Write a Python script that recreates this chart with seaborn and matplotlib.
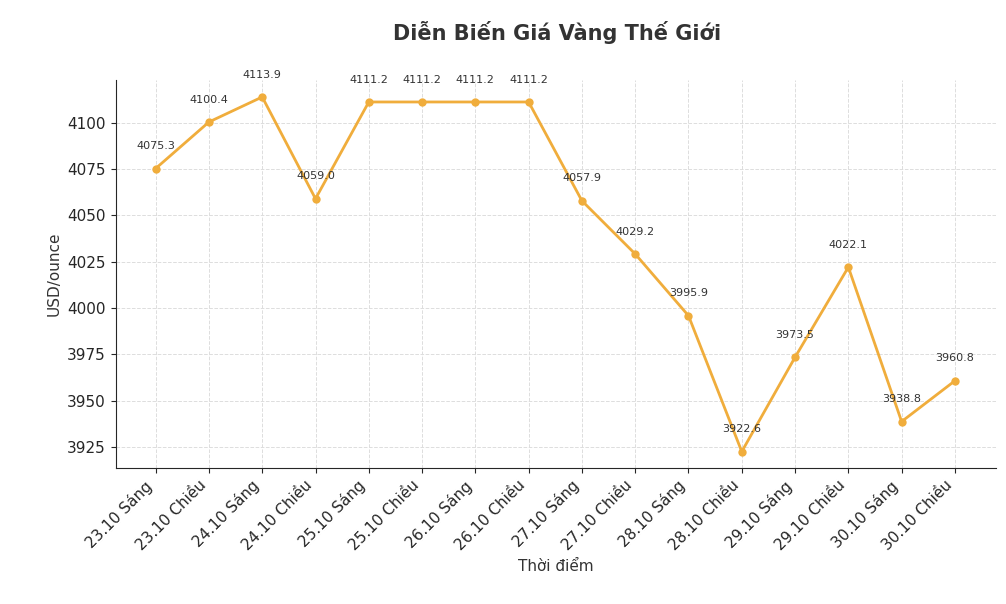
import seaborn as sns
import matplotlib.pyplot as plt
import pandas as pd

thoi_diem = ["23.10 Sáng", "23.10 Chiều", "24.10 Sáng", "24.10 Chiều", "25.10 Sáng",
             "25.10 Chiều", "26.10 Sáng", "26.10 Chiều", "27.10 Sáng", "27.10 Chiều",
             "28.10 Sáng", "28.10 Chiều", "29.10 Sáng", "29.10 Chiều", "30.10 Sáng",
             "30.10 Chiều"]
gia = [4075.3, 4100.4, 4113.9, 4059.0, 4111.2, 4111.2, 4111.2, 4111.2, 4057.9,
       4029.2, 3995.9, 3922.6, 3973.5, 4022.1, 3938.8, 3960.8]

df = pd.DataFrame({"x": range(len(gia)), "gia": gia})

sns.set_style("ticks")
plt.rcParams['font.family'] = ['DejaVu Sans']
fig, ax = plt.subplots(figsize=(10.06, 6.04), dpi=100)
fig.subplots_adjust(left=0.115, right=0.99, top=0.868, bottom=0.225)

sns.lineplot(data=df, x="x", y="gia", ax=ax, color="#f0ad3c", linewidth=2,
             marker="o", markersize=6, markeredgewidth=0)

for i, v in enumerate(gia):
    ax.annotate(f"{v:.1f}", (i, v), textcoords="offset points", xytext=(0, 14),
                ha="center", fontsize=8, color="#333333")

ax.set_xlim(-0.75, 15.77)
ax.set_ylim(3913.7, 4123.2)
ax.set_yticks([3925, 3950, 3975, 4000, 4025, 4050, 4075, 4100])
ax.set_xticks(range(len(thoi_diem)))
ax.set_xticklabels(thoi_diem, rotation=45, ha="right", fontsize=11)
ax.tick_params(axis="y", labelsize=11)
ax.grid(True, linestyle="--", color="#dddddd", linewidth=0.7)
sns.despine(ax=ax)
ax.set_xlabel("Thời điểm", fontsize=11, color="#333333")
ax.set_ylabel("USD/ounce", fontsize=11, color="#333333")
fig.suptitle("Diễn Biến Giá Vàng Thế Giới", fontsize=15, fontweight="bold",
             color="#333333", x=0.554, y=0.965)

fig.savefig("out.png", dpi=100)
